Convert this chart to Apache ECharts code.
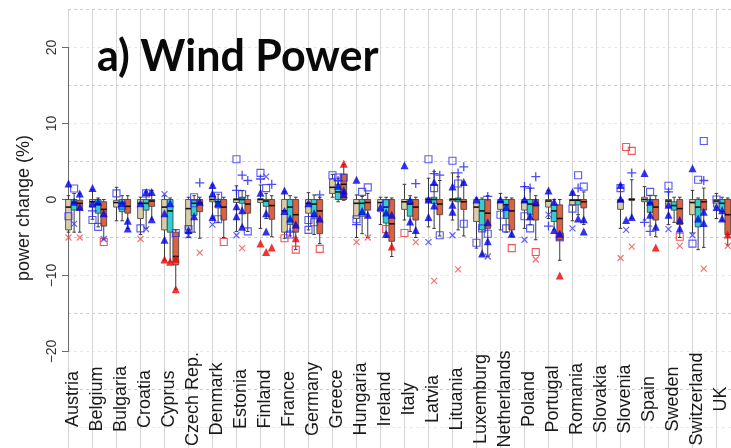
<!DOCTYPE html>
<html>
<head>
<meta charset="utf-8">
<script src="https://cdn.jsdelivr.net/npm/echarts@6/dist/echarts.min.js"></script>
<style>
  html, body { margin: 0; padding: 0; background: #ffffff; }
  #chart { width: 731px; height: 448px; }
</style>
</head>
<body>
<div id="chart"></div>
<script>
// Countries along the x axis
const countries = ['Austria', 'Belgium', 'Bulgaria', 'Croatia', 'Cyprus', 'Czech Rep.', 'Denmark',
  'Estonia', 'Finland', 'France', 'Germany', 'Greece', 'Hungaria', 'Ireland', 'Italy', 'Latvia',
  'Lituania', 'Luxemburg', 'Netherlands', 'Poland', 'Portugal', 'Romania', 'Slovakia', 'Slovenia',
  'Spain', 'Sweden', 'Switzerland', 'UK'];

// y ticks of the left axis
const yTicks = [-20, -10, 0, 10, 20];

// Box statistics per country: [lower whisker, Q1, median, Q3, upper whisker]
const tanBoxes = [
  [-4.3, -4.0, -1.0, 0, 0.5], [-2.6, -1.0, -0.3, 0, 1.3], [-2.8, -1.0, -0.4, -0.1, 1.6],
  [-4.6, -2.5, -0.5, 0, 0.3], [-8.0, -4.0, -1.0, 0, 0.5], [-5.0, -4.0, -1.2, 0, 0.3],
  [-2.5, -0.3, 0, 0.4, 1.9], [-4.2, -0.4, 0, 0.1, 1.8], [-3.8, -0.4, 0, 0.1, 1.9],
  [-5.1, -4.3, -1.5, 0, 1.0], [-4.0, -1.8, -0.5, 0, 0.9], [0.3, 0.8, 1.6, 2.7, 3.3],
  [-5.0, -2.5, -0.5, 0, 0.6], [-3.3, -1.6, -0.4, 0, 0.3], [-2.7, -1.3, -0.3, 0, 2.0],
  [-3.6, -0.3, 0, 0.2, 2.8], [-2.7, -0.2, 0, 0.1, 3.5], [-6.4, -2.9, -1.0, 0, 0.2],
  [-4.0, -1.3, -0.3, 0, 0.8], [-3.8, -1.4, -0.3, 0, 1.7], [-2.5, -1.0, -0.2, 0, 1.2],
  [-2.8, -0.7, -0.1, 0, 1.0], null, [-3.8, -1.3, -0.2, 0, 1.9],
  [-2.7, -0.3, 0, 0.3, 1.7], [-3.3, -1.0, -0.2, 0, 1.0], [-4.4, -2.0, -0.4, 0, 1.2],
  [-2.5, -1.0, -0.2, 0, 0.8]
];
const cyanBoxes = [
  [-4.3, -1.4, -0.4, 0, 0.8], [-3.6, -1.8, -0.6, 0, 0.2], [-2.8, -1.6, -0.5, 0, 0.5],
  [-3.8, -1.4, -0.5, 0, 1.0], [-8.2, -4.3, -1.5, 0, 0.2], [-4.3, -2.1, -0.5, 0, 0.5],
  [-3.0, -1.1, -0.3, 0, 0.7], [-3.6, -0.5, 0, 0.3, 1.2], [-2.5, -0.9, -0.2, 0, 0.8],
  [-4.8, -3.3, -1.0, 0, 0.5], [-4.6, -2.3, -0.6, 0, 0.6], [-0.3, 0, 1.0, 2.0, 2.8],
  [-4.5, -2.2, -0.5, 0, 0.4], [-5.0, -3.1, -1.0, 0, 0.3], [-4.2, -2.2, -0.6, 0, 0.5],
  [-3.8, -0.5, 0, 0.3, 3.7], [-4.0, -0.3, 0, 0.2, 3.0], [-7.3, -4.0, -1.5, 0, 0.2],
  [-4.3, -2.5, -0.7, 0, 0.3], [-3.3, -2.0, -0.6, 0, 1.5], [-4.0, -2.9, -1.5, -0.7, 0],
  [-2.0, -0.7, -0.1, 0, 0.5], null, null,
  [-3.5, -1.7, -0.5, 0, 0.5], [-3.0, -1.4, -0.8, -0.3, 0.3], [-6.6, -3.6, -1.0, 0, 0.2],
  [-2.8, -1.6, -0.5, 0, 0.3]
];
const redBoxes = [
  [-4.3, -1.3, -0.5, -0.1, 0.8], [-5.3, -3.5, -1.3, -0.3, 0], [-3.8, -1.8, -0.9, 0, 0.5],
  [-2.6, -0.9, -0.2, 0, 1.2], [-11.8, -8.6, -7.5, -4.3, -4.0], [-5.1, -1.6, -0.5, 0, 0.3],
  [-5.0, -2.7, -1.0, 0, 0.3], [-4.2, -1.8, -0.6, 0, 0.5], [-4.9, -2.6, -0.8, 0, 0.5],
  [-6.6, -4.3, -2.0, 0, 0.3], [-5.8, -4.5, -1.5, 0, 0.3], [-0.1, 0, 2.0, 3.3, 4.6],
  [-5.0, -1.4, -0.4, 0, 0.8], [-7.5, -5.5, -3.2, 0, 0.2], [-5.0, -2.7, -1.0, 0, 0.3],
  [-4.8, -2.0, -0.6, 0, 2.5], [-4.8, -1.3, -0.3, 0, 2.3], [-7.5, -3.8, -1.8, 0, 0.5],
  [-4.9, -4.0, -1.5, 0, 0.2], [-5.3, -2.7, -0.8, 0, 0.5], [-8.0, -5.3, -2.5, -0.7, 0],
  [-3.3, -1.1, -0.3, 0, 1.0], null, [-2.5, -0.1, 0, 0.1, 2.6],
  [-4.9, -2.7, -1.0, 0, 0.5], [-5.0, -3.3, -1.2, 0, 0.3], [-6.3, -1.4, -0.3, 0, 1.5],
  [-6.0, -4.6, -2.0, 0, 0.2]
];

// Individual model results: [country, box slot (0 tan, 1 cyan, 2 red), value]
const blueTriangles = [
  ['Austria', 0, 2.1], ['Austria', 2, 0.8], ['Austria', 1, -0.3], ['Austria', 2, -1.0],
  ['Belgium', 0, 1.5], ['Belgium', 1, -0.3], ['Belgium', 2, -1.8], ['Belgium', 0, -0.5],
  ['Bulgaria', 2, -2.8], ['Bulgaria', 2, -3.8], ['Bulgaria', 1, -0.5],
  ['Croatia', 1, 1.0], ['Croatia', 2, 1.0], ['Croatia', 2, -2.6], ['Croatia', 0, -0.5],
  ['Cyprus', 0, -1.8], ['Cyprus', 0, -5.3], ['Cyprus', 1, -0.5],
  ['Czech Rep.', 1, -2.2], ['Czech Rep.', 0, -4.0], ['Czech Rep.', 2, -0.3],
  ['Denmark', 0, 1.9], ['Denmark', 0, 0.8], ['Denmark', 1, -0.5], ['Denmark', 0, -2.3],
  ['Estonia', 0, -0.9], ['Estonia', 0, -2.2], ['Estonia', 1, -1.4], ['Estonia', 1, -3.6],
  ['Finland', 0, 0.9], ['Finland', 1, -4.2], ['Finland', 1, -1.8],
  ['France', 0, 1.2], ['France', 0, -1.5], ['France', 1, -2.5], ['France', 2, -3.3],
  ['Germany', 0, -0.5], ['Germany', 1, -1.8], ['Germany', 2, -2.5],
  ['Greece', 1, 1.8], ['Greece', 2, 1.2], ['Greece', 2, 0.7],
  ['Hungaria', 0, 2.6], ['Hungaria', 1, -1.5], ['Hungaria', 2, -2.0],
  ['Ireland', 0, -1.0], ['Ireland', 1, -1.7], ['Ireland', 1, -4.5], ['Ireland', 2, -2.0],
  ['Italy', 0, 4.5], ['Italy', 1, -0.1], ['Italy', 1, -2.9], ['Italy', 2, -4.0],
  ['Latvia', 1, 2.3], ['Latvia', 0, 0], ['Latvia', 0, -2.3], ['Latvia', 1, -0.8],
  ['Lituania', 2, 2.3], ['Lituania', 0, 1.7], ['Lituania', 0, -0.7], ['Lituania', 0, -1.6],
  ['Luxemburg', 0, 0], ['Luxemburg', 2, -5.5], ['Luxemburg', 1, -7.1], ['Luxemburg', 2, -3.0],
  ['Netherlands', 0, 0], ['Netherlands', 1, -1.0], ['Netherlands', 2, -4.5],
  ['Poland', 0, 0], ['Poland', 1, -2.2], ['Poland', 2, -0.3],
  ['Portugal', 0, 1.2], ['Portugal', 1, -0.3], ['Portugal', 1, -4.0], ['Portugal', 2, -4.5],
  ['Romania', 0, 1.0], ['Romania', 1, -2.5], ['Romania', 2, -2.6], ['Romania', 2, -4.2],
  ['Slovenia', 0, 1.9], ['Slovenia', 0, 0.1], ['Slovenia', 1, -2.7], ['Slovenia', 2, -2.3],
  ['Spain', 0, 3.5], ['Spain', 1, -0.3], ['Spain', 2, -3.6], ['Spain', 1, -2.0],
  ['Sweden', 0, -0.7], ['Sweden', 0, -2.0], ['Sweden', 2, -2.7], ['Sweden', 2, -3.8],
  ['Switzerland', 0, 4.1], ['Switzerland', 1, -2.5], ['Switzerland', 2, -1.6], ['Switzerland', 2, -3.1],
  ['UK', 0, -1.0], ['UK', 1, -1.4], ['UK', 1, -2.5]
];
const blueSquares = [
  ['Austria', 1, 1.45], ['Austria', 0, -2.2], ['Belgium', 1, -3.6], ['Belgium', 0, -2.7],
  ['Bulgaria', 0, 0.8], ['Bulgaria', 1, -0.8], ['Croatia', 0, -3.8], ['Croatia', 1, 0.8],
  ['Cyprus', 2, -4.4], ['Czech Rep.', 0, -3.9], ['Czech Rep.', 1, 0.3], ['Czech Rep.', 1, -0.5],
  ['Denmark', 1, 0.5], ['Denmark', 1, -2.6], ['Estonia', 0, 5.3], ['Estonia', 1, 0.7],
  ['Estonia', 2, -4.2], ['Finland', 0, 3.5], ['Finland', 1, 1.5], ['France', 1, -4.6],
  ['Germany', 0, -2.7], ['Germany', 0, -4.0], ['Germany', 1, -3.0], ['Greece', 0, 3.2],
  ['Greece', 1, 2.9], ['Greece', 2, 2.9], ['Hungaria', 1, 1.0], ['Hungaria', 2, 1.6],
  ['Hungaria', 0, -2.6], ['Ireland', 1, -0.5], ['Latvia', 0, 5.3], ['Latvia', 1, 1.5],
  ['Latvia', 2, -4.7], ['Lituania', 0, 5.1], ['Lituania', 1, 2.1], ['Lituania', 2, -3.2],
  ['Luxemburg', 0, -5.7], ['Luxemburg', 1, -3.8], ['Luxemburg', 2, -4.5],
  ['Netherlands', 0, -2.0], ['Netherlands', 1, -3.8], ['Poland', 0, -2.2], ['Poland', 1, -3.8],
  ['Portugal', 2, -4.9], ['Romania', 1, 3.2], ['Romania', 2, 1.7], ['Romania', 0, -1.2],
  ['Slovenia', 0, 1.5], ['Spain', 1, 1.0], ['Sweden', 0, 1.8], ['Switzerland', 2, 7.7],
  ['Switzerland', 1, 2.6], ['Switzerland', 0, -5.8], ['UK', 0, 0]
];
const bluePluses = [
  ['Belgium', 0, -1.5], ['Czech Rep.', 2, 2.2], ['Estonia', 1, 3.2], ['Estonia', 2, 2.5],
  ['Estonia', 0, 1.2], ['Finland', 0, 2.7], ['Finland', 2, 2.0], ['France', 1, -4.3],
  ['Germany', 2, 0.6], ['Greece', 1, 2.5], ['Hungaria', 0, -3.3], ['Italy', 2, 2.1],
  ['Latvia', 1, 3.4], ['Latvia', 2, 3.2], ['Lituania', 2, 4.3], ['Lituania', 1, 3.5],
  ['Luxemburg', 2, 0.4], ['Poland', 2, 3.0], ['Poland', 0, 1.7], ['Poland', 1, 1.5],
  ['Portugal', 0, -3.5], ['Romania', 1, 1.5], ['Slovenia', 2, 3.5], ['Spain', 0, -3.0],
  ['Spain', 1, -4.2], ['Sweden', 0, 1.0], ['Switzerland', 2, 2.5]
];
const blueCrosses = [
  ['Austria', 1, -3.2], ['Belgium', 2, -5.2], ['Croatia', 1, -3.9], ['Cyprus', 0, 0.7],
  ['Czech Rep.', 0, -4.7], ['Denmark', 0, -3.3], ['Estonia', 0, -4.7], ['Finland', 1, 3.0],
  ['Latvia', 0, -5.6], ['Lituania', 0, -4.7], ['Luxemburg', 2, -7.5], ['Poland', 0, -5.3],
  ['Portugal', 0, -2.0], ['Romania', 0, -3.8], ['Slovenia', 1, -4.0], ['Sweden', 0, -3.9],
  ['Switzerland', 0, -4.7]
];
const redTriangles = [
  ['Cyprus', 0, -7.9], ['Cyprus', 1, -8.2], ['Cyprus', 2, -7.8], ['Cyprus', 2, -11.8],
  ['Finland', 0, -5.8], ['Finland', 1, -6.9], ['Finland', 2, -6.3], ['France', 2, -5.1],
  ['Greece', 2, 4.7], ['Ireland', 2, -6.2], ['Portugal', 2, -10.0], ['Spain', 2, -6.3],
  ['UK', 2, -4.6]
];
const redSquares = [
  ['Belgium', 2, -5.6], ['Denmark', 2, -5.6], ['France', 0, -5.1], ['France', 2, -6.6],
  ['Germany', 2, -6.5], ['Ireland', 1, -3.9], ['Italy', 0, -4.4], ['Netherlands', 2, -6.4],
  ['Poland', 2, -6.9], ['Portugal', 2, -5.0], ['Slovenia', 1, 6.9], ['Slovenia', 2, 6.4],
  ['Sweden', 2, -4.9]
];
const redCrosses = [
  ['Austria', 0, -5.0], ['Austria', 2, -5.0], ['Croatia', 0, -5.2], ['Czech Rep.', 2, -7.0],
  ['Estonia', 1, -6.4], ['Hungaria', 0, -5.6], ['Hungaria', 2, -5.0], ['Italy', 2, -5.6],
  ['Latvia', 1, -10.7], ['Lituania', 1, -9.2], ['Poland', 2, -7.9], ['Slovenia', 0, -7.7],
  ['Slovenia', 2, -6.2], ['Sweden', 2, -6.1], ['Switzerland', 2, -9.1], ['UK', 2, -6.1]
];

// Layout of the three boxes inside each country band (in band units)
const SLOT_X = [0.02, 0.255, 0.49];
const BOX_W = 0.24;
const CAP_W = 0.15;

const PLUS_PATH = 'path://M5,0L5,10M0,5L10,5';
const CROSS_PATH = 'path://M0,0L10,10M10,0L0,10';

function boxSeries(boxes, slot, fill) {
  const data = [];
  boxes.forEach(function (b, i) {
    if (b) data.push([i + SLOT_X[slot]].concat(b));
  });
  return {
    type: 'custom',
    xAxisIndex: 0,
    yAxisIndex: 0,
    z: 2,
    silent: true,
    data: data,
    encode: { x: 0, y: [1, 2, 3, 4, 5] },
    renderItem: function (params, api) {
      const x = api.value(0);
      const low = api.coord([x, api.value(1)]);
      const q1 = api.coord([x, api.value(2)]);
      const med = api.coord([x, api.value(3)]);
      const q3 = api.coord([x, api.value(4)]);
      const high = api.coord([x, api.value(5)]);
      const left = api.coord([x - BOX_W / 2, 0])[0];
      const right = api.coord([x + BOX_W / 2, 0])[0];
      const capL = api.coord([x - CAP_W / 2, 0])[0];
      const capR = api.coord([x + CAP_W / 2, 0])[0];
      const wStyle = { stroke: '#3a3a3a', lineWidth: 1 };
      return {
        type: 'group',
        children: [
          { type: 'line', shape: { x1: low[0], y1: low[1], x2: q1[0], y2: q1[1] }, style: wStyle },
          { type: 'line', shape: { x1: q3[0], y1: q3[1], x2: high[0], y2: high[1] }, style: wStyle },
          { type: 'line', shape: { x1: capL, y1: low[1], x2: capR, y2: low[1] }, style: wStyle },
          { type: 'line', shape: { x1: capL, y1: high[1], x2: capR, y2: high[1] }, style: wStyle },
          {
            type: 'rect',
            shape: { x: left, y: q3[1], width: right - left, height: Math.max(q1[1] - q3[1], 0.8) },
            style: { fill: fill, stroke: '#3a3a3a', lineWidth: 0.8 }
          },
          { type: 'line', shape: { x1: left, y1: med[1], x2: right, y2: med[1] }, style: { stroke: '#111', lineWidth: 1.6 } }
        ]
      };
    }
  };
}

function pointSeries(points, symbol, size, style) {
  return {
    type: 'scatter',
    xAxisIndex: 0,
    yAxisIndex: 0,
    z: 5,
    silent: true,
    symbol: symbol,
    symbolSize: size,
    itemStyle: style,
    data: points.map(function (p) {
      return [countries.indexOf(p[0]) + SLOT_X[p[1]], p[2]];
    })
  };
}

const chart = echarts.init(document.getElementById('chart'), null, { renderer: 'canvas' });

chart.setOption({
  animation: false,
  backgroundColor: '#ffffff',
  grid: [
    // data panel: bands span the full height of the window
    { left: 68, top: 9.5, width: 672, height: 456, outerBoundsMode: 'none', containLabel: false },
    // left axis from -20 to 20
    { left: 68, top: 47.5, width: 10, height: 304, outerBoundsMode: 'none', containLabel: false },
    // country names
    { left: 73, top: 300, width: 648, height: 52, outerBoundsMode: 'none', containLabel: false }
  ],
  xAxis: [
    {
      gridIndex: 0, type: 'value', min: 0, max: 28, interval: 1,
      axisLine: { show: false }, axisTick: { show: false }, axisLabel: { show: false },
      splitLine: { show: true, lineStyle: { color: '#d4d4d4', width: 1, type: 'solid' } }
    },
    {
      gridIndex: 1, type: 'value', min: 0, max: 1,
      axisLine: { show: false }, axisTick: { show: false }, axisLabel: { show: false },
      splitLine: { show: false }
    },
    {
      gridIndex: 2, type: 'category', data: countries, boundaryGap: false,
      axisLine: { show: false }, axisTick: { show: false }, splitLine: { show: false },
      axisLabel: {
        interval: 0, rotate: 90, margin: 47, align: 'center', verticalAlign: 'middle',
        hideOverlap: false,
        fontFamily: '"Liberation Sans", Arial, sans-serif', fontSize: 18, color: '#1a1a1a'
      }
    }
  ],
  yAxis: [
    {
      gridIndex: 0, type: 'value', min: -35, max: 25, interval: 5,
      axisLine: { show: false }, axisTick: { show: false }, axisLabel: { show: false },
      splitLine: { show: true, lineStyle: { color: ['#cdcdcd', '#e8e8e8'], type: [3, 3], width: 1 } }
    },
    {
      gridIndex: 1, type: 'value', min: yTicks[0], max: yTicks[yTicks.length - 1], interval: 10,
      axisLine: { show: true, lineStyle: { color: '#6a6a6a', width: 1 } },
      axisTick: { show: true, length: 6, inside: false, lineStyle: { color: '#6a6a6a' } },
      splitLine: { show: false },
      axisLabel: {
        rotate: 90, margin: 9, fontSize: 14, color: '#333',
        fontFamily: '"Liberation Sans", Arial, sans-serif',
        formatter: function (v) { return String(v).replace('-', '\u2212'); }
      }
    },
    {
      gridIndex: 2, type: 'value', min: 0, max: 1, show: false
    }
  ],
  graphic: [
    {
      type: 'text', x: 24, y: 208, rotation: Math.PI / 2,
      style: {
        text: 'power change (%)', fill: '#1a1a1a', align: 'center', verticalAlign: 'middle',
        font: '18px "Liberation Sans", Arial, sans-serif'
      }
    },
    {
      type: 'text', x: 97, y: 57, z: 10,
      style: {
        text: 'a) Wind Power', fill: '#0a0a0a', align: 'left', verticalAlign: 'middle',
        font: 'bold 43px Lato, "Open Sans", sans-serif'
      }
    }
  ],
  series: [
    boxSeries(tanBoxes, 0, '#d8cdab'),
    boxSeries(cyanBoxes, 1, '#33cfcf'),
    boxSeries(redBoxes, 2, '#e0613f'),
    pointSeries(redCrosses, CROSS_PATH, 6, { color: 'rgba(0,0,0,0)', borderColor: '#f05050', borderWidth: 1.2 }),
    pointSeries(redSquares, 'rect', 7, { color: 'rgba(0,0,0,0)', borderColor: '#e83030', borderWidth: 1.1 }),
    pointSeries(redTriangles, 'triangle', 8, { color: '#ee0000' }),
    pointSeries(blueCrosses, CROSS_PATH, 6, { color: 'rgba(0,0,0,0)', borderColor: '#3a3aff', borderWidth: 1.2 }),
    pointSeries(bluePluses, PLUS_PATH, 9, { color: 'rgba(0,0,0,0)', borderColor: '#2020f0', borderWidth: 1.3 }),
    pointSeries(blueSquares, 'rect', 7, { color: 'rgba(0,0,0,0)', borderColor: '#2d2df5', borderWidth: 1.1 }),
    pointSeries(blueTriangles, 'triangle', 8, { color: '#0000e8' })
  ]
});
</script>
</body>
</html>
